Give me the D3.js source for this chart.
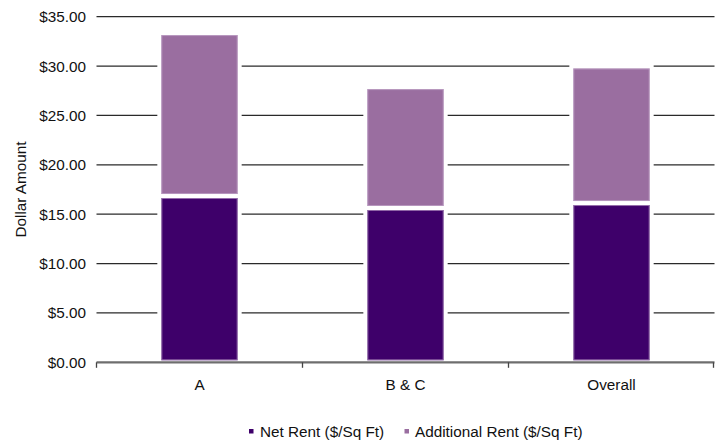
<!DOCTYPE html>
<html>
<head>
<meta charset="utf-8">
<script src="https://cdn.jsdelivr.net/npm/d3@7"></script>
<style>
  html, body { margin: 0; padding: 0; background: #fff; }
  svg { display: block; font-family: "Liberation Sans", Arial, sans-serif; }
</style>
</head>
<body>
<svg id="chart" width="717" height="442"></svg>
<script>
const categories = ["A", "B & C", "Overall"];
const netRent = [16.84, 15.63, 16.13];
const additionalRent = [16.5, 12.24, 13.83];
const seriesNames = ["Net Rent ($/Sq Ft)", "Additional Rent ($/Sq Ft)"];
const seriesColors = ["#3e006a", "#9a6ea0"];
const yTicks = [0, 5, 10, 15, 20, 25, 30, 35];

const svg = d3.select("#chart");
const margin = { left: 96.5, right: 2.5, top: 16.7, bottom: 79.7 };
const W = 717, H = 442;
const x = d3.scaleBand().domain(categories).range([margin.left, W - margin.right]).paddingInner(0.61).paddingOuter(0.305);
const xOuter = d3.scaleBand().domain(categories).range([margin.left, W - margin.right]);
const y = d3.scaleLinear().domain([0, 35]).range([H - margin.bottom, margin.top]);

// gridlines
svg.append("g").selectAll("line").data(yTicks.filter(d => d > 0)).join("line")
  .attr("x1", margin.left).attr("x2", W - margin.right)
  .attr("y1", d => y(d)).attr("y2", d => y(d))
  .attr("stroke", "#2a2a2a").attr("stroke-width", 1.2);

// y tick labels
svg.append("g").selectAll("text").data(yTicks).join("text")
  .attr("x", 86).attr("y", d => y(d)).attr("dy", "0.36em")
  .attr("text-anchor", "end").attr("font-size", 15.3).attr("fill", "#111")
  .text(d => "$" + d.toFixed(2));

// y title
svg.append("text")
  .attr("transform", `translate(26,${(y(0) + y(35)) / 2}) rotate(-90)`)
  .attr("text-anchor", "middle").attr("font-size", 15.3).attr("fill", "#111")
  .text("Dollar Amount");

// stacked data
const rows = categories.map((c, i) => ({ cat: c, net: netRent[i], add: additionalRent[i] }));
const stack = d3.stack().keys(["net", "add"])(rows);

const gBars = svg.append("g");
stack.forEach((layer, li) => {
  gBars.append("g").selectAll("rect").data(layer).join("rect")
    .attr("x", d => x(d.data.cat))
    .attr("width", x.bandwidth())
    .attr("y", d => y(d[1]))
    .attr("height", d => y(d[0]) - y(d[1]))
    .attr("fill", seriesColors[li])
    .attr("stroke", "#fff").attr("stroke-width", 4);
  gBars.append("g").selectAll("rect").data(layer).join("rect")
    .attr("x", d => x(d.data.cat) + 2.5)
    .attr("width", x.bandwidth() - 5)
    .attr("y", d => y(d[1]) + 2.5)
    .attr("height", d => y(d[0]) - y(d[1]) - 5)
    .attr("fill", "none")
    .attr("stroke", "#c9b0d2").attr("stroke-width", 1).attr("stroke-opacity", 0.6);
});

// x axis
const axisY = y(0);
svg.append("line")
  .attr("x1", margin.left).attr("x2", W - margin.right)
  .attr("y1", axisY).attr("y2", axisY)
  .attr("stroke", "#6e6e6e").attr("stroke-width", 2.2);
const tickXs = categories.map(c => xOuter(c)).concat([W - margin.right - 1]);
svg.append("g").selectAll("line").data(tickXs).join("line")
  .attr("x1", d => d).attr("x2", d => d)
  .attr("y1", axisY).attr("y2", axisY + 5.5)
  .attr("stroke", "#444").attr("stroke-width", 1.3);

// category labels
svg.append("g").selectAll("text").data(categories).join("text")
  .attr("x", d => xOuter(d) + xOuter.bandwidth() / 2)
  .attr("y", 389.5)
  .attr("text-anchor", "middle").attr("font-size", 15.3).attr("fill", "#111")
  .text(d => d);

// legend
const legendItems = [
  { name: seriesNames[0], color: seriesColors[0], mx: 251, tx: 260 },
  { name: seriesNames[1], color: seriesColors[1], mx: 406.5, tx: 415 }
];
const lg = svg.append("g");
legendItems.forEach(it => {
  lg.append("rect").attr("x", it.mx - 2).attr("y", 429).attr("width", 4.5).attr("height", 4.5).attr("fill", it.color);
  lg.append("text").attr("x", it.tx).attr("y", 437).attr("font-size", 15.3).attr("fill", "#111").text(it.name);
});
</script>
</body>
</html>
